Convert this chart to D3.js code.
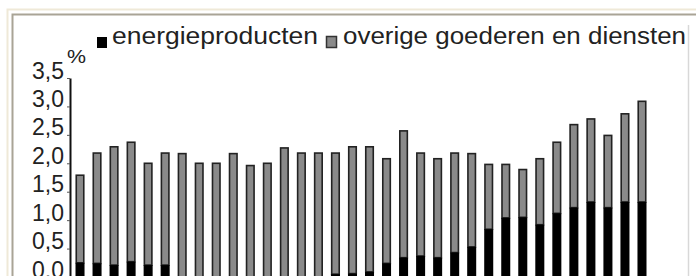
<!DOCTYPE html>
<html>
<head>
<meta charset="utf-8">
<script src="https://cdn.jsdelivr.net/npm/d3@7"></script>
<style>
  body { margin: 0; background: #fff; }
  svg { display: block; font-family: "Liberation Sans", Arial, sans-serif; }
</style>
</head>
<body>
<svg width="696" height="276"></svg>
<script>
'use strict';
// periods (x labels are cut off in the picture, so just numbered)
let categories = d3.range(1, 35).map(String);
let energie = [0.25, 0.24, 0.21, 0.27, 0.21, 0.21, 0, 0, 0, 0, 0, 0, 0, 0, 0, 0.05, 0.06,
    0.09, 0.24, 0.34, 0.37, 0.34, 0.43, 0.53, 0.84, 1.04, 1.05, 0.92, 1.12, 1.22, 1.32, 1.22, 1.32, 1.32];
let overige = [1.54, 1.94, 2.08, 2.10, 1.79, 1.97, 2.17, 2.0, 2.0, 2.17, 1.96, 2.0, 2.27, 2.18, 2.18, 2.13, 2.23,
    2.20, 1.84, 2.23, 1.81, 1.74, 1.75, 1.64, 1.14, 0.94, 0.84, 1.16, 1.25, 1.46, 1.46, 1.27, 1.55, 1.77];
let yTicks = [0, 0.5, 1, 1.5, 2, 2.5, 3, 3.5];
let legendLabels = ["energieproducten", "overige goederen en diensten"];

let svg = d3.select("svg");
let fontSize = 23;

// frame
svg.append("path").attr("d", "M7.5,276 V9.5 H696").attr("fill", "none").attr("stroke", "#efe9d8").attr("stroke-width", 2);
svg.append("path").attr("d", "M12.5,276 V14.5 H696").attr("fill", "none").attr("stroke", "#a9a496").attr("stroke-width", 2);
svg.append("line").attr("x1", 688.5).attr("x2", 688.5).attr("y1", 25).attr("y2", 276)
    .attr("stroke", "#d8d8d8").attr("stroke-width", 1.5);

let xScale = d3.scaleBand()
    .domain(categories)
    .range([71.5, 650.5])
    .paddingInner(0.47)
    .paddingOuter(0.235);

let yScale = d3.scaleLinear()
    .domain([0, 3.5])
    .range([277, 78]);

let rows = categories.map(function(c, i) {
    return {cat: c, energie: energie[i], overige: overige[i]};
});

// overige goederen en diensten (stacked on top of energie)
svg.append("g").selectAll("rect")
    .data(rows)
    .join("rect")
    .attr("x", d => xScale(d.cat) + 0.75)
    .attr("width", xScale.bandwidth() - 1.5)
    .attr("y", d => yScale(d.energie + d.overige))
    .attr("height", d => yScale(d.energie) - yScale(d.energie + d.overige))
    .attr("fill", "#8a8a8a")
    .attr("stroke", "#222")
    .attr("stroke-width", 1.6);

// energieproducten
svg.append("g").selectAll("rect")
    .data(rows)
    .join("rect")
    .attr("x", d => xScale(d.cat))
    .attr("width", xScale.bandwidth())
    .attr("y", d => yScale(d.energie))
    .attr("height", d => yScale(0) - yScale(d.energie))
    .attr("fill", "#000");

let yAxis = d3.axisLeft(yScale)
    .tickValues(yTicks)
    .tickSizeInner(3)
    .tickSizeOuter(0)
    .tickPadding(3)
    .tickFormat(d => d3.format(".1f")(d).replace(".", ","));

let gy = svg.append("g").attr("transform", "translate(70,0)").call(yAxis);
gy.select(".domain").attr("stroke", "#111").attr("stroke-width", 2);
gy.selectAll(".tick line").attr("stroke", "#555");
gy.selectAll(".tick text")
    .attr("dy", "0")
    .attr("fill", "#222")
    .style("font-size", fontSize + "px")
    .style("font-family", "'Liberation Sans', Arial, sans-serif");

svg.append("text")
    .attr("x", 67)
    .attr("y", 63)
    .attr("fill", "#222")
    .attr("textLength", 19)
    .attr("lengthAdjust", "spacingAndGlyphs")
    .style("font-size", "19px")
    .text("%");

// legend
let legend = [
    {label: legendLabels[0], fill: "#000", stroke: "none", box: [97, 37, 10, 11], tx: 112, len: 206},
    {label: legendLabels[1], fill: "#8a8a8a", stroke: "#333", box: [326.5, 36.5, 10, 11], tx: 343, len: 343}
];
legend.forEach(function(l) {
    svg.append("rect")
        .attr("x", l.box[0]).attr("y", l.box[1])
        .attr("width", l.box[2]).attr("height", l.box[3])
        .attr("fill", l.fill)
        .attr("stroke", l.stroke)
        .attr("stroke-width", 1.5);
    svg.append("text")
        .attr("x", l.tx)
        .attr("y", 44)
        .attr("fill", "#222")
        .attr("textLength", l.len)
        .attr("lengthAdjust", "spacingAndGlyphs")
        .style("font-size", fontSize + "px")
        .text(l.label);
});
</script>
</body>
</html>
